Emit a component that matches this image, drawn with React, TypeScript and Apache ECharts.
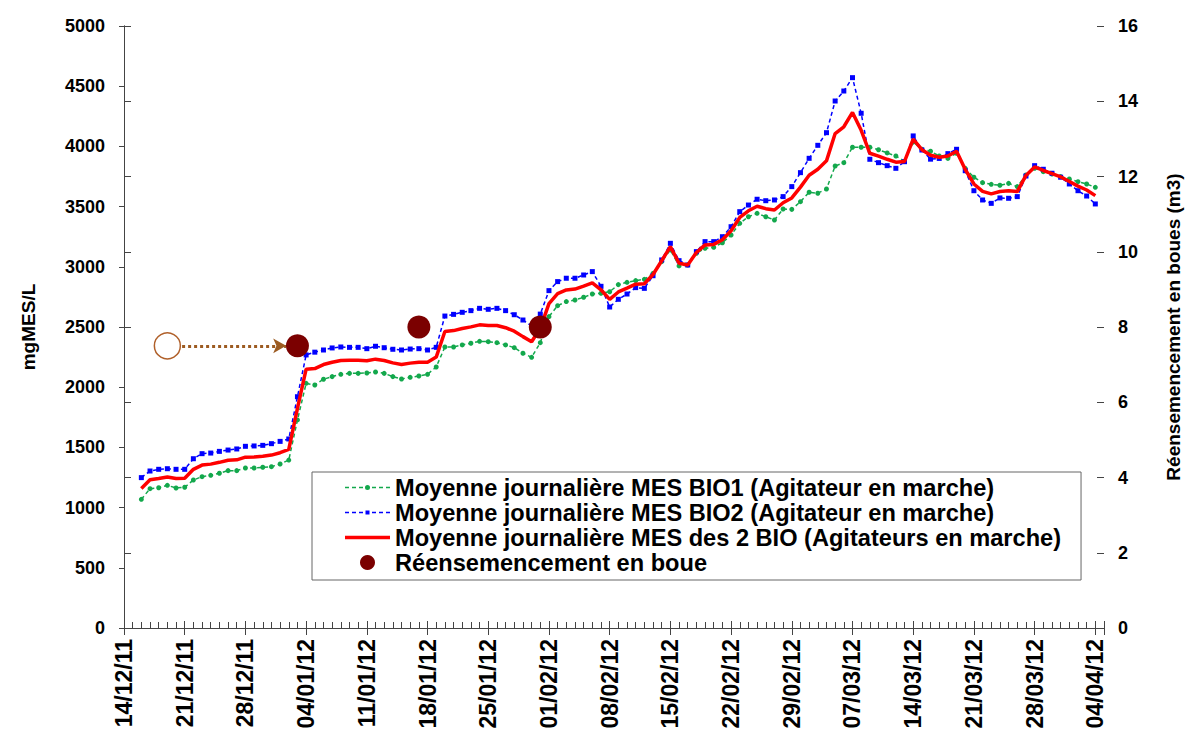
import React, { useEffect, useRef } from "react";
import * as echarts from "echarts";

// Day 0 = 14/12/11 ; weekly tick labels
const xLabels = [
  "14/12/11", "21/12/11", "28/12/11", "04/01/12", "11/01/12", "18/01/12",
  "25/01/12", "01/02/12", "08/02/12", "15/02/12", "22/02/12", "29/02/12",
  "07/03/12", "14/03/12", "21/03/12", "28/03/12", "04/04/12",
];

// daily values, first value is day 2 (16/12/11)
const firstDay = 2;

const bio1 = [
  1069, 1157, 1165, 1185, 1163, 1169, 1229, 1257, 1268, 1285, 1307, 1307, 1329, 1329, 1335, 1340, 1362, 1395,
  1728, 2032, 2018, 2066, 2088, 2107, 2115, 2115, 2118, 2126, 2115, 2088, 2068, 2082, 2093, 2107, 2168,
  2334, 2334, 2351, 2365, 2381, 2378, 2370, 2351, 2328, 2282, 2248, 2370, 2586, 2677, 2711, 2724, 2747,
  2774, 2780, 2793, 2852, 2871, 2885, 2896, 2946, 3043, 3140, 3007, 3015, 3112, 3154, 3162, 3200, 3264,
  3361, 3416, 3444, 3416, 3389, 3480, 3477, 3541, 3619, 3611, 3646, 3837, 3865, 3993, 3993, 3993, 3972,
  3946, 3920, 3876, 4035, 3976, 3960, 3920, 3900, 3943, 3818, 3744, 3699, 3685, 3677, 3693, 3666, 3763,
  3818, 3790, 3771, 3749, 3729, 3707, 3688, 3660,
];

const bio2 = [
  1249, 1304, 1318, 1323, 1318, 1318, 1406, 1448, 1453, 1467, 1478, 1487, 1509, 1512, 1517, 1531, 1550, 1570,
  1921, 2268, 2291, 2309, 2326, 2334, 2331, 2331, 2320, 2340, 2328, 2315, 2309, 2317, 2320, 2309, 2331,
  2591, 2605, 2622, 2636, 2655, 2647, 2655, 2636, 2602, 2558, 2508, 2607, 2802, 2877, 2905, 2905, 2932,
  2960, 2838, 2666, 2730, 2774, 2827, 2821, 2926, 3057, 3195, 3051, 3015, 3126, 3209, 3209, 3250, 3333,
  3458, 3513, 3561, 3549, 3555, 3583, 3666, 3782, 3901, 4009, 4114, 4377, 4460, 4571, 4275, 3893, 3865,
  3840, 3818, 3873, 4087, 3970, 3894, 3900, 3940, 3976, 3798, 3632, 3555, 3527, 3572, 3569, 3583, 3754,
  3840, 3810, 3777, 3744, 3688, 3632, 3588, 3522,
];

const bioMean = [
  1159, 1231, 1242, 1254, 1241, 1244, 1318, 1353, 1361, 1376, 1393, 1397, 1419, 1421, 1426, 1436, 1456, 1483,
  1825, 2150, 2155, 2188, 2207, 2221, 2223, 2223, 2219, 2233, 2222, 2202, 2189, 2200, 2207, 2208, 2250,
  2463, 2470, 2487, 2501, 2518, 2513, 2513, 2494, 2465, 2420, 2378, 2489, 2694, 2777, 2808, 2815, 2840,
  2867, 2809, 2730, 2791, 2823, 2856, 2859, 2936, 3050, 3168, 3029, 3015, 3119, 3182, 3186, 3225, 3299,
  3410, 3465, 3503, 3483, 3472, 3532, 3572, 3662, 3760, 3810, 3880, 4107, 4163, 4282, 4134, 3943, 3919,
  3893, 3869, 3875, 4061, 3973, 3927, 3910, 3920, 3960, 3808, 3688, 3627, 3606, 3625, 3631, 3625, 3759,
  3829, 3800, 3774, 3747, 3709, 3670, 3638, 3591,
];

// reseeding (m3, right axis)
const reseedDays = [20, 34, 48];
const reseedVolumes = [7.5, 8, 8];
const plannedDay = 5;
const plannedVolume = 7.5;

const S1 = "Moyenne journalière MES BIO1 (Agitateur en marche)";
const S2 = "Moyenne journalière MES BIO2 (Agitateur en marche)";
const S3 = "Moyenne journalière MES des 2 BIO (Agitateurs en marche)";
const S4 = "Réensemencement en boue";

const FONT = "'Liberation Sans', Arial, sans-serif";

const GREEN = "#13A84C";
const BLUE = "#0000FF";
const RED = "#FF0000";
const MAROON = "#7B0000";

const toPoints = (arr: number[]) => arr.map((v, i) => [firstDay + i, v]);

const dashes = "M0,2.75h4v1.5h-4zM7,2.75h4v1.5h-4zM14,2.75h4v1.5h-4zM27,2.75h4v1.5h-4zM34,2.75h4v1.5h-4zM41,2.75h4v1.5h-4z";
const iconDotLine = "path://" + dashes + "M20,3.5a2.5,2.5 0 1,0 5,0a2.5,2.5 0 1,0 -5,0z";
const iconSquareLine = "path://" + dashes + "M20.5,1.5h4v4h-4z";
const iconSolid = "path://M0,0h45v3.5h-45z";

export default function App() {
  const ref = useRef<HTMLDivElement>(null);

  useEffect(() => {
    if (!ref.current) return;
    const chart = echarts.init(ref.current, null, { renderer: "svg" });
    const axisColor = "#444";
    const xMin = 0;
    const xMax = 113;
    const option: any = {
      animation: false,
      backgroundColor: "#fff",
      textStyle: { fontFamily: FONT },
      grid: {
        left: 124,
        right: 81,
        top: 26,
        bottom: 105,
        containLabel: false,
        outerBoundsMode: "none",
      },
      legend: {
        orient: "vertical",
        left: 312,
        top: 472,
        padding: [3, 20, 5, 33],
        itemGap: 0,
        itemWidth: 45,
        itemHeight: 15,
        borderColor: "#666",
        borderWidth: 1,
        backgroundColor: "#fff",
        textStyle: { fontFamily: FONT, fontSize: 23.6, fontWeight: "bold", color: "#000", lineHeight: 25 },
        data: [
          { name: S1, icon: iconDotLine, itemStyle: { color: GREEN } },
          { name: S2, icon: iconSquareLine, itemStyle: { color: BLUE } },
          { name: S3, icon: iconSolid, itemStyle: { color: RED } },
          { name: S4, icon: "circle", itemStyle: { color: MAROON } },
        ],
      },
      xAxis: [
        {
          type: "value",
          min: xMin,
          max: xMax,
          interval: 7,
          axisLine: { lineStyle: { color: axisColor, width: 1 } },
          axisTick: { show: true, inside: true, length: 7, lineStyle: { color: axisColor } },
          minorTick: { show: true, splitNumber: 7, length: 6, lineStyle: { color: axisColor } },
          splitLine: { show: false },
          axisLabel: {
            rotate: 90,
            margin: 11,
            showMaxLabel: false,
            fontFamily: FONT,
            fontSize: 23,
            fontWeight: "bold",
            color: "#000",
            formatter: (v: number) => (v % 7 === 0 ? xLabels[v / 7] ?? "" : ""),
          },
        },
        {
          type: "value",
          position: "bottom",
          min: xMin,
          max: xMax,
          interval: 7,
          axisLine: { show: false },
          axisTick: { show: true, inside: false, length: 7, lineStyle: { color: axisColor } },
          axisLabel: { show: false },
          splitLine: { show: false },
        },
      ],
      yAxis: [
        {
          type: "value",
          min: 0,
          max: 5000,
          interval: 500,
          name: "mgMES/L",
          nameLocation: "middle",
          nameGap: 86,
          nameTextStyle: { fontFamily: FONT, fontSize: 19, fontWeight: "bold", color: "#000" },
          axisLine: { show: true, lineStyle: { color: axisColor } },
          axisTick: { show: true, length: 5, lineStyle: { color: axisColor } },
          splitLine: { show: false },
          axisLabel: {
            margin: 19,
            fontFamily: FONT,
            fontSize: 18,
            fontWeight: "bold",
            color: "#000",
            formatter: (v: number) => String(v),
          },
        },
        {
          type: "value",
          position: "right",
          min: 0,
          max: 16,
          interval: 2,
          name: "Réensemencement en boues (m3)",
          nameLocation: "middle",
          nameGap: 60,
          nameRotate: 90,
          nameTextStyle: { fontFamily: FONT, fontSize: 19, fontWeight: "bold", color: "#000" },
          axisLine: { show: true, lineStyle: { color: axisColor } },
          axisTick: { show: true, length: 7, lineStyle: { color: axisColor } },
          splitLine: { show: false },
          axisLabel: {
            margin: 14,
            fontFamily: FONT,
            fontSize: 18,
            fontWeight: "bold",
            color: "#000",
            formatter: (v: number) => String(v),
          },
        },
        {
          type: "value",
          position: "right",
          min: 0,
          max: 16,
          interval: 2,
          axisLine: { show: false },
          axisTick: { show: true, inside: true, length: 7, lineStyle: { color: axisColor } },
          axisLabel: { show: false },
          splitLine: { show: false },
        },
      ],
      series: [
        {
          name: S1,
          type: "line",
          data: toPoints(bio1),
          symbol: "circle",
          symbolSize: 5,
          showSymbol: true,
          itemStyle: { color: GREEN },
          lineStyle: { color: GREEN, width: 1.5, type: [4, 3] },
          z: 3,
        },
        {
          name: S2,
          type: "line",
          data: toPoints(bio2),
          symbol: "rect",
          symbolSize: 5,
          showSymbol: true,
          itemStyle: { color: BLUE },
          lineStyle: { color: BLUE, width: 1.5, type: [4, 3] },
          z: 3,
        },
        {
          name: S3,
          type: "line",
          data: toPoints(bioMean),
          symbol: "none",
          itemStyle: { color: RED },
          lineStyle: { color: RED, width: 3.5 },
          z: 4,
        },
        {
          name: "planned",
          type: "scatter",
          yAxisIndex: 1,
          data: [[plannedDay, plannedVolume]],
          symbol: "circle",
          symbolSize: 26,
          itemStyle: { color: "#fff", borderColor: "#B0602A", borderWidth: 1.5, opacity: 1 },
          markLine: {
            silent: true,
            symbol: ["none", "arrow"],
            symbolSize: [11, 13],
            label: { show: false },
            lineStyle: { color: "#9C5B21", width: 3, type: [3, 3], opacity: 1 },
            data: [
              [
                { coord: [plannedDay + 1.7, plannedVolume] },
                { coord: [reseedDays[0] - 1.3, plannedVolume] },
              ],
            ],
          },
          z: 5,
        },
        {
          name: S4,
          type: "scatter",
          yAxisIndex: 1,
          data: reseedDays.map((d, i) => [d, reseedVolumes[i]]),
          symbol: "circle",
          symbolSize: 23,
          itemStyle: { color: MAROON, opacity: 1 },
          z: 6,
        },
      ],
    };
    chart.setOption(option);
    return () => chart.dispose();
  }, []);

  return (
    <div
      ref={ref}
      style={{ position: "fixed", left: 0, top: 0, width: 1185, height: 733, background: "#fff" }}
    />
  );
}
